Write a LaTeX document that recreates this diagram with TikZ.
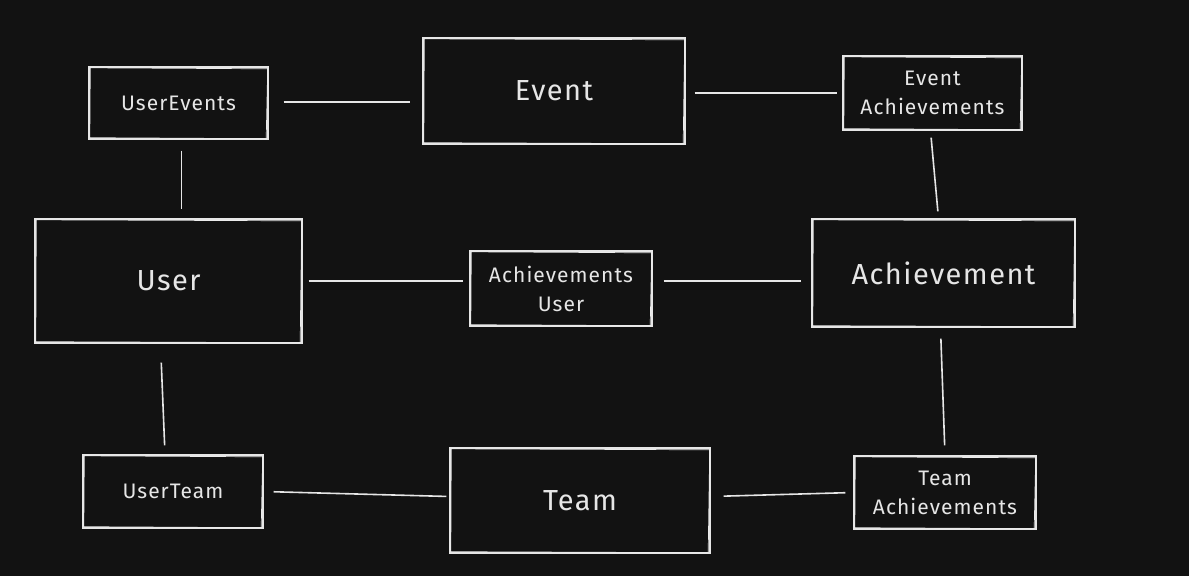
\documentclass[tikz,border=0pt]{standalone}
\usepackage{fontspec}
\setmainfont{Fira Sans}[LetterSpace=5]
\definecolor{bg}{HTML}{121212}
\definecolor{ink}{HTML}{E6E6E6}
\begin{document}
\begin{tikzpicture}[x=1pt,y=-1pt,
  box/.style={draw=ink, line width=1.4pt, text=ink, align=center, inner sep=0pt, anchor=center},
  small/.style={box, font=\fontsize{21}{29}\selectfont},
  big/.style={box, font=\fontsize{29}{34}\selectfont},
  link/.style={draw=ink, line width=1.6pt},
  ghost/.style={draw=ink!80, line width=0.7pt}]
\fill[bg] (0,0) rectangle (1189,576);
\useasboundingbox (0,0) rectangle (1189,576);

\node[small, minimum width=179pt, minimum height=72pt] (ue) at (178.5,103) {UserEvents};
\node[big, minimum width=262pt, minimum height=106pt] (ev) at (554,91) {Event};
\node[small, minimum width=179pt, minimum height=74pt] (ea) at (932.5,93) {Event\\Achievements};
\node[big, minimum width=267pt, minimum height=124pt] (us) at (168.5,281) {User};
\node[small, minimum width=182pt, minimum height=75pt] (au) at (561,288.5) {Achievements\\User};
\node[big, minimum width=263pt, minimum height=108pt] (ac) at (943.5,273) {Achievement};
\node[small, minimum width=180pt, minimum height=73pt] (ut) at (173,491.5) {UserTeam};
\node[big, minimum width=260pt, minimum height=105pt] (tm) at (580,500.5) {Team};
\node[small, minimum width=182pt, minimum height=73pt] (ta) at (945,492.5) {Team\\Achievements};

\foreach \n in {ue,ev,ea,us,au,ac,ut,tm,ta}{
  \draw[ghost] ([shift={(2,1.5)}]\n.north west) -- ([shift={(-1,2.5)}]\n.north east)
     -- ([shift={(-2.5,-1)}]\n.south east) -- ([shift={(1.5,-2)}]\n.south west) -- cycle;
}

\draw[link, shorten <=15pt, shorten >=12pt] ([yshift=1pt]ue.east) -- ([yshift=1pt]ue.east -| ev.west);
\draw[link, shorten <=9pt, shorten >=5pt] ([yshift=-2pt]ev.east) -- ([yshift=-2pt]ev.east -| ea.west);
\draw[link, shorten <=11pt, shorten >=9pt] ([xshift=3pt]ue.south) -- ([xshift=3pt]ue.south |- us.north);
\draw[link, shorten <=7pt, shorten >=7pt] ([xshift=-2pt]ea.south) -- ([xshift=-5pt]ac.north);
\draw[link, shorten <=6pt, shorten >=6pt] (us.east) -- (us.east -| au.west);
\draw[link, shorten <=11pt, shorten >=10pt] (au.east |- us.east) -- (ac.west |- us.east);
\draw[link, shorten <=19pt, shorten >=9pt] ([xshift=-8pt]us.south) -- ([xshift=-8pt]ut.north);
\draw[link, shorten <=11pt, shorten >=10pt] ([xshift=-3pt]ac.south) -- (ta.north);
\draw[link, shorten <=10pt, shorten >=3pt] (ut.east) -- ([yshift=4pt]tm.west);
\draw[link, shorten <=13pt, shorten >=8pt] ([yshift=4pt]tm.east) -- (ta.west);
\end{tikzpicture}
\end{document}
